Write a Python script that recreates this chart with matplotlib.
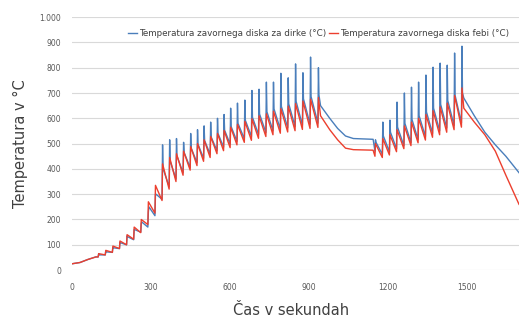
#!/usr/bin/env python3

import matplotlib
matplotlib.use("Agg")
import matplotlib.pyplot as plt
from matplotlib.ticker import FuncFormatter

# warm-up before the braking cycles start
warm_t = [0, 30, 60, 90]
warm_blue = [25, 30, 42, 52]
warm_red = [25, 30, 42, 52]

# first series of braking cycles (start time of each cycle)
cyc1_t = [99, 126, 153, 180, 207, 234, 261, 288, 315,
          342, 369, 395, 422, 449, 475, 500, 525, 551, 576, 601, 627,
          655, 682, 709, 737, 764, 792, 820, 848, 876, 905, 935]
cyc1_blue_low = [52, 60, 70, 85, 100, 120, 150, 170, 215,
                 280, 330, 360, 385, 405, 425, 442, 458, 472, 486, 498, 509,
                 519, 528, 536, 544, 551, 557, 563, 568, 573, 577, 581]
cyc1_blue_peak = [65, 75, 90, 110, 135, 160, 185, 230, 300,
                  495, 515, 520, 505, 540, 555, 570, 585, 600, 615, 640, 660,
                  672, 710, 715, 743, 743, 778, 760, 815, 780, 842, 800]
cyc1_blue_top = [60, 72, 88, 108, 132, 160, 190, 250, 300,
                 400, 430, 450, 465, 482, 497, 512, 526, 540, 553, 567, 580,
                 592, 604, 617, 626, 637, 647, 657, 667, 677, 686, 692]
cyc1_red_low = [52, 60, 70, 85, 100, 122, 148, 180, 225,
                275, 320, 350, 375, 395, 413, 430, 445, 460, 472, 484, 495,
                505, 513, 521, 528, 535, 541, 546, 551, 556, 560, 564]
cyc1_red_peak = [65, 78, 95, 115, 140, 170, 200, 270, 335,
                 420, 445, 460, 470, 488, 500, 515, 528, 540, 552, 565, 576,
                 588, 598, 610, 618, 628, 638, 648, 658, 668, 676, 682]

# cooling between the two series
cool1_t = [945, 980, 1010, 1040, 1070, 1145]
cool1_blue = [650, 600, 560, 530, 520, 517]
cool1_red = [610, 555, 515, 482, 476, 474]

# second series of braking cycles
cyc2_t = [1152, 1180, 1207, 1234, 1262, 1289, 1316, 1344, 1371, 1398, 1425, 1453, 1481]
cyc2_blue_low = [470, 458, 468, 480, 492, 504, 516, 528, 540, 551, 562, 572, 582]
cyc2_blue_peak = [515, 585, 593, 664, 700, 723, 743, 771, 802, 818, 810, 858, 885]
cyc2_blue_top = [505, 530, 545, 565, 580, 595, 610, 625, 640, 655, 670, 690, 700]
cyc2_red_low = [450, 445, 455, 468, 480, 492, 503, 514, 525, 535, 545, 555, 565]
cyc2_red_peak = [500, 520, 535, 555, 570, 585, 600, 615, 630, 645, 660, 690, 720]

# final cooling
cool2_t = [1490, 1530, 1570, 1610, 1650, 1700]
cool2_blue = [680, 610, 545, 495, 450, 385]
cool2_red = [640, 585, 535, 470, 375, 260]

x_ticks = [0, 300, 600, 900, 1200, 1500]
y_ticks = [0, 100, 200, 300, 400, 500, 600, 700, 800, 900, 1000]

label_blue = "Temperatura zavornega diska za dirke (°C)"
label_red = "Temperatura zavornega diska febi (°C)"


def cycle_path(times, lows, peaks, tops=None):
    xs, ys = [], []
    for i, t in enumerate(times):
        xs += [t, t + 2]
        ys += [lows[i], peaks[i]]
        if tops is not None:
            xs.append(t + 4)
            ys.append(tops[i])
    return xs, ys


def build_series(blue):
    if blue:
        a = cycle_path(cyc1_t, cyc1_blue_low, cyc1_blue_peak, cyc1_blue_top)
        b = cycle_path(cyc2_t, cyc2_blue_low, cyc2_blue_peak, cyc2_blue_top)
        xs = warm_t + a[0] + cool1_t + b[0] + cool2_t
        ys = warm_blue + a[1] + cool1_blue + b[1] + cool2_blue
    else:
        a = cycle_path(cyc1_t, cyc1_red_low, cyc1_red_peak)
        b = cycle_path(cyc2_t, cyc2_red_low, cyc2_red_peak)
        xs = warm_t + a[0] + cool1_t + b[0] + cool2_t
        ys = warm_red + a[1] + cool1_red + b[1] + cool2_red
    return xs, ys


fig = plt.figure(figsize=(5.19, 3.17), dpi=100)
ax = fig.add_axes([0.139, 0.148, 0.861, 0.798])

bx, by = build_series(True)
rx, ry = build_series(False)
ax.plot(bx, by, color="#4a7ebb", lw=1.0, label=label_blue)
ax.plot(rx, ry, color="#ec3f2e", lw=1.0, label=label_red)

ax.set_xlim(0, 1700)
ax.set_ylim(0, 1000)
ax.set_xticks(x_ticks)
ax.set_yticks(y_ticks)
ax.yaxis.set_major_formatter(FuncFormatter(lambda v, p: f"{int(v):,}".replace(",", ".")))
ax.grid(axis="y", color="#d9d9d9", lw=0.8)
ax.set_axisbelow(True)
for s in ax.spines.values():
    s.set_visible(False)
ax.tick_params(axis="both", length=0, labelsize=5.5, colors="#595959")
ax.tick_params(axis="y", pad=8)
ax.tick_params(axis="x", pad=9)

ax.set_xlabel("Čas v sekundah", fontsize=10.5, color="#404040")
ax.xaxis.set_label_coords(0.49, -0.13)
ax.set_ylabel("Temperatura v °C", fontsize=10.5, color="#404040")
ax.yaxis.set_label_coords(-0.098, 0.5)

ax.legend(loc="upper right", bbox_to_anchor=(0.995, 0.985), ncol=2, frameon=False,
          fontsize=6.3, handlelength=1.0, handletextpad=0.2, columnspacing=0.4,
          labelcolor="#404040")

fig.savefig("out.png", dpi=100)
